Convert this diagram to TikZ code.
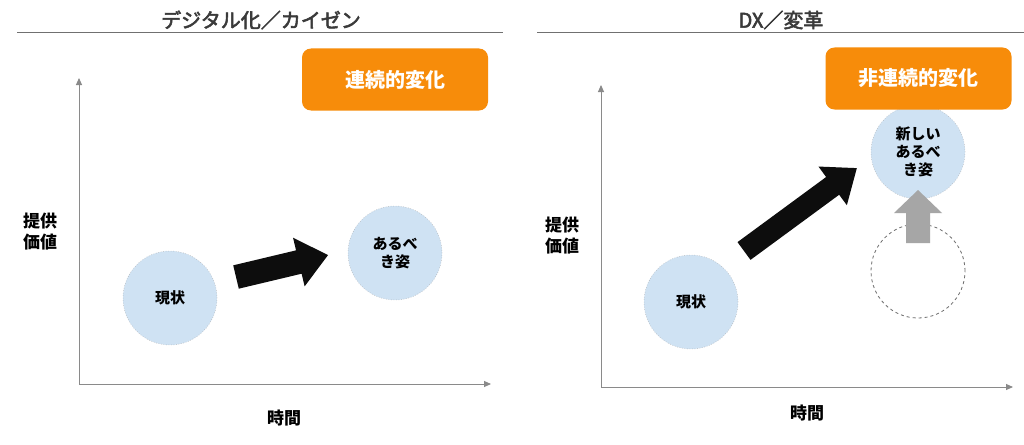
\documentclass[tikz,border=0pt]{standalone}
\usepackage{fontspec}
\setmainfont{Noto Sans CJK JP}
\newcommand{\heavytitle}[1]{\special{pdf:literal direct 2 Tr 0.55 w}#1\special{pdf:literal direct 0 Tr}}
\usetikzlibrary{arrows.meta}
\definecolor{boxorange}{HTML}{F78C0A}
\definecolor{bubbleblue}{HTML}{CFE2F3}
\definecolor{titlegray}{HTML}{3A3A3A}
\definecolor{axisgray}{HTML}{8A8A8A}
\definecolor{rulegray}{HTML}{707070}
\definecolor{uparrowgray}{HTML}{A6A6A6}
\definecolor{bigarrow}{HTML}{0D0D0D}
\tikzset{
  titletext/.style={text=titlegray, font=\fontsize{20}{24}\selectfont},
  titlerule/.style={draw=rulegray, line width=0.9pt},
  changebox/.style={fill=boxorange, rounded corners=9pt, text=white,
    font=\bfseries\fontsize{20}{24}\selectfont, minimum width=186pt, minimum height=62pt, inner sep=0pt},
  axisline/.style={draw=axisgray, line width=0.9pt, -{Triangle[length=7pt,width=6pt]}},
  bubble/.style={circle, fill=bubbleblue, draw=gray!70, dotted, line width=0.5pt,
    minimum size=94pt, inner sep=0pt, align=center, text=black,
    font=\bfseries\fontsize{15}{17.5}\selectfont},
  ghost/.style={circle, draw=gray!85!black, dashed, line width=0.8pt, minimum size=94pt, inner sep=0pt},
  axislabel/.style={align=center, font=\bfseries\fontsize{17}{21}\selectfont, text=black},
}
\begin{document}
\begin{tikzpicture}[x=1pt,y=-1pt]
\useasboundingbox (0,0) rectangle (1024,444);
\fill[white] (0,0) rectangle (1024,444);

% ---------- left panel ----------
\node[titletext] (t1) at (261,20) {\heavytitle{デジタル化／カイゼン}};
\coordinate (r1a) at (17,32);
\coordinate (r1b) at (503,32);
\draw[titlerule] (r1a) -- (r1b);
\node[changebox] (box1) at (395,79.5) {連続的変化};

\coordinate (o1) at (79,384);
\coordinate (y1) at (79,78);
\coordinate (x1) at (491,384);
\draw[axisline] (o1) -- (y1);
\draw[axisline] (o1) -- (x1);
\node[axislabel] (yl1) at (40,232) {提供\\価値};
\node[axislabel] (xl1) at (284,418) {時間};

\node[bubble] (now1) at (170,298) {現状};
\node[bubble] (goal1) at (395,253) {あるべ\\き姿};

\begin{scope}[shift={(236,277)}, rotate=13.4]
  \fill[bigarrow] (0,-12) -- (64.6,-12) -- (64.6,-25) -- (94.6,0) -- (64.6,25) -- (64.6,12) -- (0,12) -- cycle;
\end{scope}

% ---------- right panel ----------
\node[titletext] (t2) at (781,20) {\heavytitle{DX／変革}};
\coordinate (r2a) at (537,32);
\coordinate (r2b) at (1024,32);
\draw[titlerule] (r2a) -- (r2b);

\coordinate (o2) at (601,387);
\coordinate (y2) at (601,85);
\coordinate (x2) at (1013,387);
\draw[axisline] (o2) -- (y2);
\draw[axisline] (o2) -- (x2);
\node[axislabel] (yl2) at (562,236) {提供\\価値};
\node[axislabel] (xl2) at (807,413) {時間};

\node[bubble] (now2) at (691,302) {現状};
\node[bubble, font=\bfseries\fontsize{15}{18}\selectfont] (goal2) at (918,152) {新しい\\あるべ\\き姿};
\node[ghost] (old2) at (918,271) {};
\node[changebox] (box2) at (918.5,78.5) {非連続的変化};

\fill[uparrowgray] (906,243) -- (930,243) -- (930,213) -- (942,213) -- (918,190) -- (894,213) -- (906,213) -- cycle;

\begin{scope}[shift={(744,251)}, rotate=36.3]
  \fill[bigarrow] (0,-11) -- (110,-11) -- (110,-24) -- (140,0) -- (110,24) -- (110,11) -- (0,11) -- cycle;
\end{scope}
\end{tikzpicture}
\end{document}
